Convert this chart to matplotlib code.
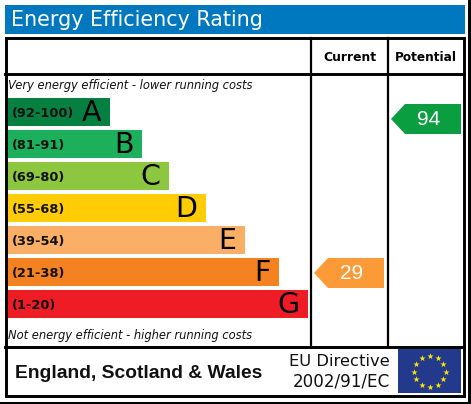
import numpy as np
import matplotlib
matplotlib.use('Agg')
import matplotlib.pyplot as plt
from matplotlib.patches import Rectangle, Polygon

# epc bands, top to bottom
band_letters = ['A', 'B', 'C', 'D', 'E', 'F', 'G']
band_ranges = ['(92-100)', '(81-91)', '(69-80)', '(55-68)', '(39-54)', '(21-38)', '(1-20)']
band_lengths = [102, 134, 161, 198, 237, 271, 300]
band_colors = ['#058040', '#1cb05c', '#8dc63f', '#ffcc05', '#fbae65', '#f58220', '#ee1c25']

current_score = 29
potential_score = 94
current_color = '#fd9a38'
potential_color = '#0a9e41'

title = 'Energy Efficiency Rating'
top_note = 'Very energy efficient - lower running costs'
bottom_note = 'Not energy efficient - higher running costs'
region = 'England, Scotland & Wales'
directive = ['EU Directive', '2002/91/EC']

BLUE = '#0078c0'
n_stars = 12

fig = plt.figure(figsize=(4.71, 4.04), dpi=100, facecolor='white')
ax = fig.add_axes([0, 0, 1, 1])
ax.set_xlim(0, 471)
ax.set_ylim(404, 0)
ax.axis('off')

# black edge on the right and bottom of the image
ax.add_patch(Rectangle((468, 0), 3, 404, color='black', lw=0))
ax.add_patch(Rectangle((0, 402), 471, 2, color='black', lw=0))

# title strip
ax.add_patch(Rectangle((5, 5), 460, 29, color=BLUE, lw=0))
ax.text(11, 20.5, title, color='white', fontsize=14.9, va='center', ha='left')

# table lines
ax.plot([5.5, 464.3, 464.3, 5.5, 5.5], [38, 38, 396, 396, 38], color='black', lw=2.1, solid_joinstyle='miter')
ax.plot([5, 464], [74, 74], color='black', lw=2.1)
ax.plot([5, 464], [346.5, 346.5], color='black', lw=2.1)
ax.plot([311, 311], [38, 346], color='black', lw=1.6)
ax.plot([388, 388], [38, 346], color='black', lw=1.6)

ax.text(349.5, 57.5, 'Current', fontsize=8.9, fontweight='bold', ha='center', va='center')
ax.text(426, 57.5, 'Potential', fontsize=8.7, fontweight='bold', ha='center', va='center')

ax.text(8.5, 86, top_note, fontsize=8.3, style='italic', ha='left', va='center', color='#111111')
ax.text(8.5, 335, bottom_note, fontsize=8.3, style='italic', ha='left', va='center', color='#111111')

# bands
band_y = 112 + 32 * np.arange(len(band_letters))
ax.barh(band_y, band_lengths, height=28, left=8, color=band_colors, lw=0)
for y, length, letter, rng in zip(band_y, band_lengths, band_letters, band_ranges):
    ax.text(12, y + 1, rng, fontsize=9.4, fontweight='bold', ha='left', va='center', color='#111111')
    ax.text(8 + length - 8.5, y + 1, letter, fontsize=20.5, ha='right', va='center', color='black')


def score_arrow(score, y, left, color):
    pts = [(left, y), (left + 14, y - 15), (left + 70, y - 15), (left + 70, y + 15), (left + 14, y + 15)]
    ax.add_patch(Polygon(pts, closed=True, facecolor=color, edgecolor='none'))
    ax.text(left + 38, y + 0.5, str(score), color='white', fontsize=15, family='Liberation Sans',
            ha='center', va='center')


score_arrow(current_score, 273, 314, current_color)
score_arrow(potential_score, 119, 391, potential_color)

# footer
ax.text(15, 373, region, fontsize=13.9, fontweight='bold', family='Liberation Sans', ha='left', va='center',
        color='#111111')
ax.text(390, 361, directive[0], fontsize=11.8, ha='right', va='center', color='#111111')
ax.text(390, 381, directive[1], fontsize=12.1, ha='right', va='center', color='#111111')

# eu flag
ax.add_patch(Rectangle((398, 349), 63, 44, color='#22398c', lw=0))
angles = np.arange(n_stars) * 2 * np.pi / n_stars
ax.scatter(429.5 + 16 * np.cos(angles), 371.5 + 15.5 * np.sin(angles), marker='*', s=22, color='#ffe800', lw=0)

fig.savefig('out.png', dpi=100)
